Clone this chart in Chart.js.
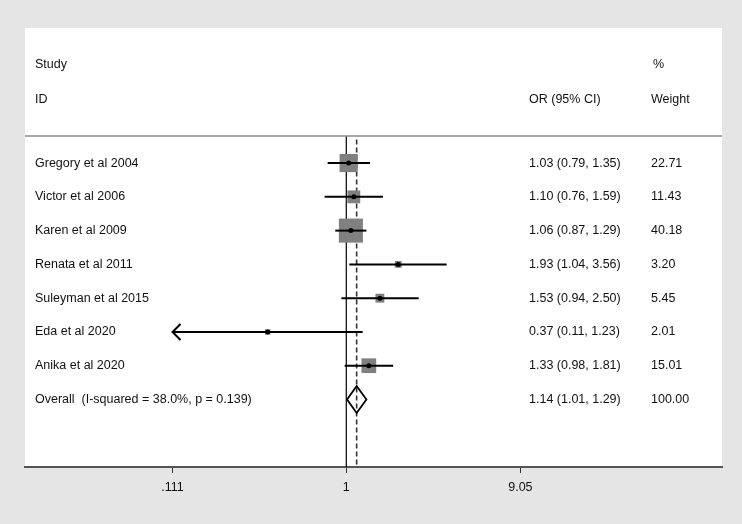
<!DOCTYPE html>
<html>
<head>
<meta charset="utf-8">
<script src="https://cdn.jsdelivr.net/npm/chart.js@4/dist/chart.umd.min.js"></script>
<style>
  html, body { margin: 0; padding: 0; background: #e5e5e5; }
  canvas { display: block; }
</style>
</head>
<body>
<canvas id="forest" width="742" height="524"></canvas>
<script>
// study data
const studies = ['Gregory et al 2004', 'Victor et al 2006', 'Karen et al 2009', 'Renata et al 2011',
  'Suleyman et al 2015', 'Eda et al 2020', 'Anika et al 2020'];
const orValues = [1.03, 1.10, 1.06, 1.93, 1.53, 0.37, 1.33];
const ciLower = [0.79, 0.76, 0.87, 1.04, 0.94, 0.11, 0.98];
const ciUpper = [1.35, 1.59, 1.29, 3.56, 2.50, 1.23, 1.81];
const weights = [22.71, 11.43, 40.18, 3.20, 5.45, 2.01, 15.01];

const overallLabel = 'Overall  (I-squared = 38.0%, p = 0.139)';
const overallOR = 1.14;
const overallLower = 1.01;
const overallUpper = 1.29;
const overallWeight = 100.00;

const tickValues = [0.111, 1, 9.05];
const tickLabels = ['.111', '1', '9.05'];

const FONT = '12.5px "Liberation Sans", Arial, sans-serif';
const plotMin = tickValues[0];
const plotMax = tickValues[tickValues.length - 1];
const overallRow = studies.length;

// CI lines, clipped to the tick range (arrow drawn later)
const ciSets = studies.map((s, i) => ({
  type: 'line',
  data: [{ x: Math.max(ciLower[i], plotMin), y: i }, { x: Math.min(ciUpper[i], plotMax), y: i }],
  borderColor: '#000',
  borderWidth: 2,
  pointRadius: 0,
  order: 2
}));

const points = orValues.map((v, i) => ({ x: v, y: i }));

const forestText = {
  id: 'forestText',
  beforeDraw(chart) {
    const ctx = chart.ctx;
    const a = chart.chartArea;
    ctx.save();
    ctx.fillStyle = '#e5e5e5';
    ctx.fillRect(0, 0, chart.width, chart.height);
    ctx.fillStyle = '#fff';
    ctx.fillRect(a.left, a.top, a.right - a.left, a.bottom - a.top);
    ctx.restore();
  },
  afterDatasetsDraw(chart) {
    const ctx = chart.ctx;
    const a = chart.chartArea;
    const x = chart.scales.x;
    const y = chart.scales.y;
    ctx.save();
    // header rule
    ctx.strokeStyle = '#8a8a8a';
    ctx.lineWidth = 1.5;
    ctx.beginPath();
    ctx.moveTo(a.left, y.getPixelForValue(-0.8));
    ctx.lineTo(a.right, y.getPixelForValue(-0.8));
    ctx.stroke();

    // arrows for clipped CIs
    ctx.strokeStyle = '#000';
    ctx.lineWidth = 2;
    studies.forEach((s, i) => {
      const py = y.getPixelForValue(i);
      if (ciLower[i] < plotMin) {
        const px = x.getPixelForValue(plotMin);
        ctx.beginPath();
        ctx.moveTo(px + 8, py - 8);
        ctx.lineTo(px, py);
        ctx.lineTo(px + 8, py + 8);
        ctx.stroke();
      }
      if (ciUpper[i] > plotMax) {
        const px = x.getPixelForValue(plotMax);
        ctx.beginPath();
        ctx.moveTo(px - 8, py - 8);
        ctx.lineTo(px, py);
        ctx.lineTo(px - 8, py + 8);
        ctx.stroke();
      }
    });

    // text columns
    ctx.font = FONT;
    ctx.fillStyle = '#111';
    ctx.textBaseline = 'middle';
    ctx.textAlign = 'left';
    const colLabel = 35, colOR = 529, colW = 651;
    ctx.fillText('Study', colLabel, y.getPixelForValue(-2.92));
    ctx.fillText('%', colW + 2, y.getPixelForValue(-2.92));
    ctx.fillText('ID', colLabel, y.getPixelForValue(-1.88));
    ctx.fillText('OR (95% CI)', colOR, y.getPixelForValue(-1.88));
    ctx.fillText('Weight', colW, y.getPixelForValue(-1.88));
    studies.forEach((s, i) => {
      const py = y.getPixelForValue(i);
      ctx.fillText(s, colLabel, py);
      ctx.fillText(orValues[i].toFixed(2) + ' (' + ciLower[i].toFixed(2) + ', ' + ciUpper[i].toFixed(2) + ')', colOR, py);
      ctx.fillText(weights[i].toFixed(2), colW, py);
    });
    const oy = y.getPixelForValue(overallRow);
    ctx.fillText(overallLabel, colLabel, oy);
    ctx.fillText(overallOR.toFixed(2) + ' (' + overallLower.toFixed(2) + ', ' + overallUpper.toFixed(2) + ')', colOR, oy);
    ctx.fillText(overallWeight.toFixed(2), colW, oy);
    ctx.restore();
  }
};

new Chart(document.getElementById('forest'), {
  type: 'scatter',
  data: {
    datasets: [
      // centre dots
      { data: points, pointStyle: 'circle', pointRadius: 2.5, backgroundColor: '#000', borderWidth: 0, order: 0 },
      ...ciSets,
      // weight boxes, area proportional to weight
      {
        data: points,
        pointStyle: 'rect',
        pointRadius: weights.map(w => 3.8 * Math.sqrt(w) / Math.SQRT2),
        backgroundColor: '#808080',
        borderWidth: 0,
        order: 3
      },
      // no-effect line
      {
        type: 'line',
        data: [{ x: 1, y: -0.8 }, { x: 1, y: 9 }],
        borderColor: '#000', borderWidth: 1.2, pointRadius: 0, order: 4
      },
      // overall effect line
      {
        type: 'line',
        data: [{ x: overallOR, y: -0.7 }, { x: overallOR, y: 9 }],
        borderColor: '#333', borderWidth: 1.6, borderDash: [5, 3], pointRadius: 0, order: 4
      },
      // overall diamond
      {
        type: 'line',
        data: [
          { x: overallLower, y: overallRow }, { x: overallOR, y: overallRow - 0.4 },
          { x: overallUpper, y: overallRow }, { x: overallOR, y: overallRow + 0.4 },
          { x: overallLower, y: overallRow }
        ],
        borderColor: '#000', borderWidth: 1.8, backgroundColor: '#fff', fill: true,
        pointRadius: 0, tension: 0, order: 1
      }
    ]
  },
  options: {
    responsive: false,
    animation: false,
    layout: { padding: { left: 25, right: 20, top: 28, bottom: 22 } },
    plugins: { legend: { display: false }, tooltip: { enabled: false } },
    scales: {
      x: {
        type: 'logarithmic',
        min: 0.01717,
        max: 115.96,
        afterBuildTicks(scale) {
          scale.ticks = tickValues.map(v => ({ value: v }));
        },
        ticks: {
          autoSkip: false,
          maxRotation: 0,
          padding: 7,
          color: '#111',
          font: { family: '"Liberation Sans", Arial, sans-serif', size: 12.5 },
          callback: (v, i) => tickLabels[i]
        },
        grid: { drawOnChartArea: false, drawTicks: true, tickLength: 6, color: '#333', lineWidth: 1 },
        border: { display: true, color: '#555', width: 2 }
      },
      y: {
        type: 'linear',
        reverse: true,
        min: -4,
        max: 9,
        display: false
      }
    }
  },
  plugins: [forestText]
});
</script>
</body>
</html>
